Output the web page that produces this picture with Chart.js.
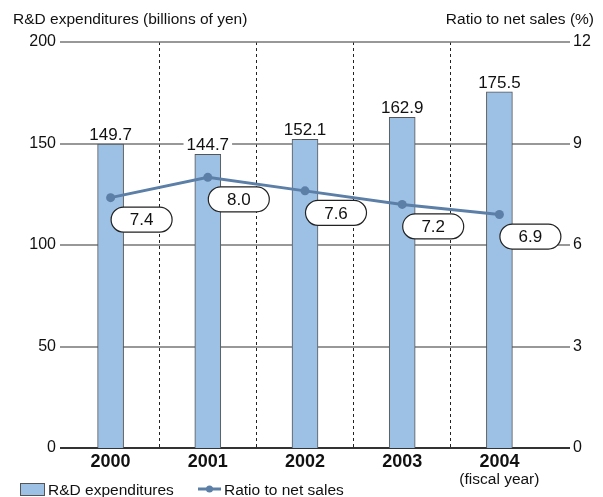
<!DOCTYPE html>
<html>
<head>
<meta charset="utf-8">
<script src="https://cdn.jsdelivr.net/npm/chart.js@4.4.1/dist/chart.umd.min.js"></script>
<style>
  body { margin: 0; background: #fff; }
  canvas { display: block; }
</style>
</head>
<body>
<canvas id="chart" width="603" height="497"></canvas>
<script>
// data
const years = ['2000', '2001', '2002', '2003', '2004'];
const rdExpenditures = [149.7, 144.7, 152.1, 162.9, 175.5];
const salesRatio = [7.4, 8.0, 7.6, 7.2, 6.9];
const leftAxisTitle = 'R&D expenditures (billions of yen)';
const rightAxisTitle = 'Ratio to net sales (%)';
const fiscalNote = '(fiscal year)';

const FONT = '"Liberation Sans", Arial, Helvetica, sans-serif';
const barColor = '#9dc1e5';
const barBorder = '#555';
const lineColor = '#5b7fa7';

// horizontal grid lines, extended past the plot like the original
const gridPlugin = {
    id: 'hgrid',
    beforeDatasetsDraw(chart) {
        const ctx = chart.ctx;
        const area = chart.chartArea;
        const y = chart.scales.y;
        ctx.save();
        y.ticks.forEach(t => {
            const py = Math.round(y.getPixelForValue(t.value));
            ctx.beginPath();
            ctx.strokeStyle = t.value === 0 ? '#333' : '#767676';
            ctx.lineWidth = t.value === 0 ? 2 : 1.6;
            ctx.moveTo(area.left - 2, py);
            ctx.lineTo(area.right + 22, py);
            ctx.stroke();
        });
        ctx.restore();
    }
};

// value labels, ratio pills, titles and legend
const labelPlugin = {
    id: 'labels',
    afterDatasetsDraw(chart) {
        const ctx = chart.ctx;
        ctx.save();

        // bar values
        const barMeta = chart.getDatasetMeta(1);
        ctx.font = '17px ' + FONT;
        ctx.textAlign = 'center';
        ctx.textBaseline = 'alphabetic';
        barMeta.data.forEach((bar, i) => {
            const txt = rdExpenditures[i].toFixed(1);
            const w = ctx.measureText(txt).width;
            const base = bar.y - 4;
            ctx.fillStyle = '#fff';
            ctx.fillRect(bar.x - w / 2 - 3, base - 14, w + 6, 15);
            ctx.fillStyle = '#111';
            ctx.fillText(txt, bar.x, base);
        });

        // ratio pills
        const lineMeta = chart.getDatasetMeta(0);
        lineMeta.data.forEach((pt, i) => {
            const cx = pt.x + 31;
            const cy = pt.y + 22;
            const w = 61, h = 25, r = h / 2;
            ctx.beginPath();
            ctx.moveTo(cx - w / 2 + r, cy - r);
            ctx.lineTo(cx + w / 2 - r, cy - r);
            ctx.arc(cx + w / 2 - r, cy, r, -Math.PI / 2, Math.PI / 2);
            ctx.lineTo(cx - w / 2 + r, cy + r);
            ctx.arc(cx - w / 2 + r, cy, r, Math.PI / 2, Math.PI * 1.5);
            ctx.closePath();
            ctx.fillStyle = '#fff';
            ctx.fill();
            ctx.lineWidth = 1.2;
            ctx.strokeStyle = '#222';
            ctx.stroke();
            ctx.fillStyle = '#111';
            ctx.textBaseline = 'middle';
            ctx.fillText(salesRatio[i].toFixed(1), cx, cy + 1);
        });
        ctx.restore();
    },
    afterDraw(chart) {
        const ctx = chart.ctx;
        const xs = chart.scales.x;
        ctx.save();
        ctx.fillStyle = '#111';
        ctx.font = '15.5px ' + FONT;
        ctx.textBaseline = 'alphabetic';
        ctx.textAlign = 'left';
        ctx.fillText(leftAxisTitle, 13, 24);
        ctx.textAlign = 'right';
        ctx.fillText(rightAxisTitle, 594, 24);

        // note under the last year
        ctx.textAlign = 'center';
        ctx.fillText(fiscalNote, xs.getPixelForValue(years.length - 1), 484);

        // legend
        ctx.textAlign = 'left';
        ctx.fillStyle = barColor;
        ctx.fillRect(20, 483, 25, 12);
        ctx.strokeStyle = barBorder;
        ctx.lineWidth = 1;
        ctx.strokeRect(20.5, 483.5, 24, 12);
        ctx.fillStyle = '#111';
        ctx.fillText('R&D expenditures', 48, 494.5);

        ctx.strokeStyle = lineColor;
        ctx.lineWidth = 3;
        ctx.beginPath();
        ctx.moveTo(198, 489);
        ctx.lineTo(221, 489);
        ctx.stroke();
        ctx.fillStyle = lineColor;
        ctx.beginPath();
        ctx.arc(209.5, 489, 3.5, 0, Math.PI * 2);
        ctx.fill();
        ctx.fillStyle = '#111';
        ctx.fillText('Ratio to net sales', 224, 494.5);
        ctx.restore();
    }
};

new Chart(document.getElementById('chart'), {
    type: 'bar',
    data: {
        labels: years,
        datasets: [{
            type: 'line',
            label: 'Ratio to net sales',
            data: salesRatio,
            yAxisID: 'y1',
            borderColor: lineColor,
            backgroundColor: lineColor,
            borderWidth: 3,
            pointRadius: 4.5,
            pointBorderWidth: 0,
            tension: 0,
            order: 0
        }, {
            label: 'R&D expenditures',
            data: rdExpenditures,
            yAxisID: 'y',
            backgroundColor: barColor,
            borderColor: barBorder,
            borderWidth: 1,
            barThickness: 26,
            order: 1
        }]
    },
    options: {
        responsive: false,
        animation: false,
        layout: { padding: { top: 42, left: 0, right: 0, bottom: 0 } },
        plugins: {
            legend: { display: false },
            tooltip: { enabled: false }
        },
        scales: {
            x: {
                offset: true,
                grid: {
                    offset: true,
                    drawTicks: false,
                    lineWidth: 1,
                    color: c => (c.type !== 'tick' || c.index === 0) ? 'rgba(0,0,0,0)' : '#222'
                },
                border: { display: false, dash: [3, 3] },
                ticks: {
                    color: '#111',
                    font: { family: FONT, size: 18, weight: 'bold' },
                    padding: 3,
                    maxRotation: 0
                },
                afterFit: s => { s.height = 49; }
            },
            y: {
                position: 'left',
                min: 0,
                max: 200,
                grid: { display: false, drawTicks: false },
                border: { display: false },
                ticks: {
                    stepSize: 50,
                    color: '#111',
                    font: { family: FONT, size: 16 },
                    padding: 6
                },
                afterFit: s => { s.width = 62; }
            },
            y1: {
                position: 'right',
                min: 0,
                max: 12,
                grid: { display: false, drawTicks: false },
                border: { display: false },
                ticks: {
                    stepSize: 3,
                    color: '#111',
                    font: { family: FONT, size: 16 },
                    padding: 25
                },
                afterFit: s => { s.width = 55; }
            }
        }
    },
    plugins: [gridPlugin, labelPlugin]
});
</script>
</body>
</html>
